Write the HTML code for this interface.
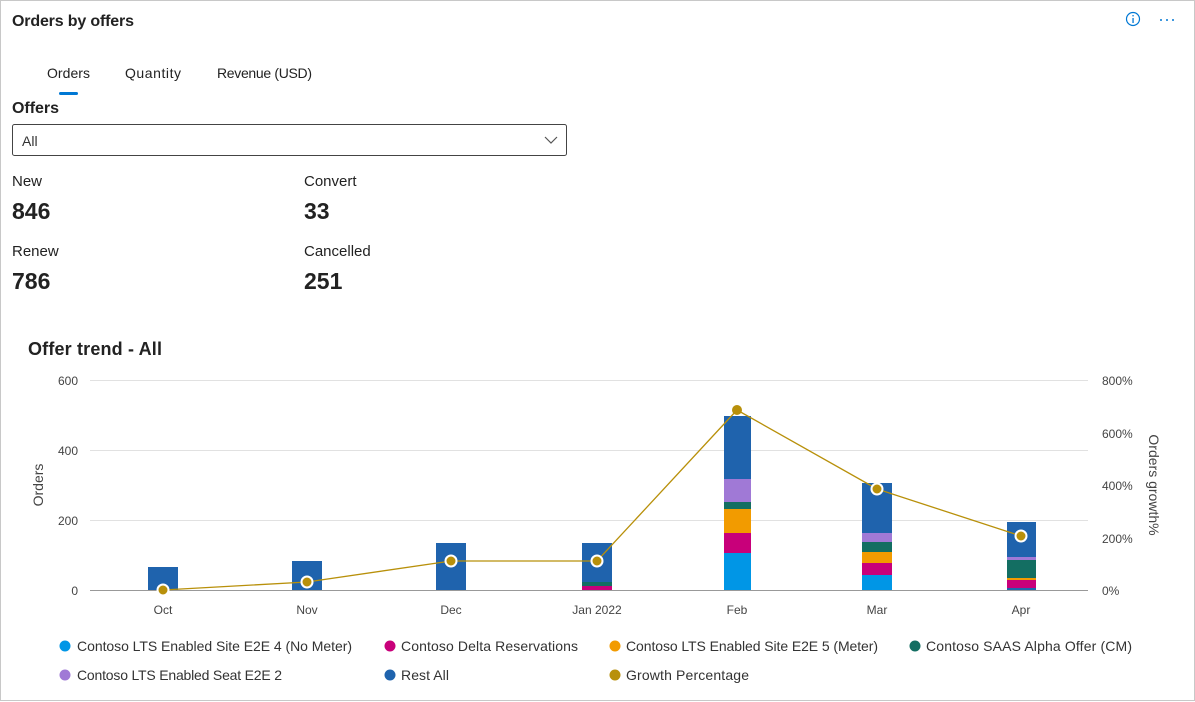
<!DOCTYPE html>
<html><head><meta charset="utf-8"><style>
html,body{margin:0;padding:0;background:#fff;}
svg{display:block;font-family:"Liberation Sans",sans-serif;}
</style></head><body>
<svg width="1195" height="702" viewBox="0 0 1195 702" xmlns="http://www.w3.org/2000/svg">
<rect x="0.5" y="0.5" width="1194" height="700" fill="#fff" stroke="#c8c8c8"/>
<text x="12" y="26" font-size="16" font-weight="bold" fill="#222" textLength="122">Orders by offers</text>
<circle cx="1133" cy="19" r="6.5" fill="none" stroke="#0078d4" stroke-width="1.2"/>
<rect x="1132.4" y="18" width="1.3" height="5" fill="#0078d4"/><rect x="1132.4" y="15" width="1.3" height="1.4" fill="#0078d4"/>
<circle cx="1161" cy="20" r="1" fill="#0078d4"/><circle cx="1167" cy="20" r="1" fill="#0078d4"/><circle cx="1173" cy="20" r="1" fill="#0078d4"/>
<g font-size="14" fill="#222">
<text x="47" y="78" textLength="43">Orders</text>
<text x="125" y="78" textLength="56">Quantity</text>
<text x="217" y="78" textLength="95">Revenue (USD)</text>
</g>
<rect x="59" y="92" width="19" height="3" rx="1.5" fill="#0078d4"/>
<text x="12" y="113" font-size="16" font-weight="bold" fill="#222" textLength="47">Offers</text>
<rect x="12.5" y="124.5" width="554" height="31" rx="2" fill="#fff" stroke="#444"/>
<text x="22" y="146" font-size="14" fill="#333">All</text>
<path d="M545 137 L551 143 L557 137" fill="none" stroke="#555" stroke-width="1.2"/>
<g fill="#222">
<text x="12" y="186" font-size="15">New</text>
<text x="12" y="219" font-size="23" font-weight="bold">846</text>
<text x="304" y="186" font-size="15">Convert</text>
<text x="304" y="219" font-size="23" font-weight="bold">33</text>
<text x="12" y="256" font-size="15">Renew</text>
<text x="12" y="289" font-size="23" font-weight="bold">786</text>
<text x="304" y="256" font-size="15">Cancelled</text>
<text x="304" y="289" font-size="23" font-weight="bold">251</text>
</g>
<text x="28" y="355" font-size="18" font-weight="bold" fill="#222" textLength="134">Offer trend - All</text>
<!-- grid -->
<g stroke="#e1e1e1" stroke-width="1">
<line x1="90" y1="380.5" x2="1088" y2="380.5"/>
<line x1="90" y1="450.5" x2="1088" y2="450.5"/>
<line x1="90" y1="520.5" x2="1088" y2="520.5"/>
</g>
<g font-size="12" fill="#444" text-anchor="end">
<text x="78" y="385">600</text><text x="78" y="455">400</text><text x="78" y="525">200</text><text x="78" y="595">0</text>
</g>
<g font-size="12" fill="#444">
<text x="1102" y="385">800%</text><text x="1102" y="438">600%</text><text x="1102" y="490">400%</text><text x="1102" y="543">200%</text><text x="1102" y="595">0%</text>
</g>
<text transform="translate(43,485) rotate(-90)" font-size="14" fill="#444" text-anchor="middle">Orders</text>
<text transform="translate(1149,485) rotate(90)" font-size="14" fill="#444" text-anchor="middle">Orders growth%</text>
<!-- bars -->
<g>
<rect x="148" y="567" width="30" height="23" fill="#1f63ad"/>
<rect x="292" y="561" width="30" height="29" fill="#1f63ad"/>
<rect x="436" y="543" width="30" height="47" fill="#1f63ad"/>
<rect x="582" y="543" width="30" height="39" fill="#1f63ad"/>
<rect x="582" y="582" width="30" height="4" fill="#136e62"/>
<rect x="582" y="586" width="30" height="4" fill="#c8007a"/>
<!-- Feb -->
<rect x="724" y="416" width="27" height="63" fill="#1f63ad"/>
<rect x="724" y="479" width="27" height="23" fill="#a079d6"/>
<rect x="724" y="502" width="27" height="7" fill="#136e62"/>
<rect x="724" y="509" width="27" height="24" fill="#f29b00"/>
<rect x="724" y="533" width="27" height="20" fill="#c8007a"/>
<rect x="724" y="553" width="27" height="37" fill="#0096e6"/>
<!-- Mar -->
<rect x="862" y="483" width="30" height="50" fill="#1f63ad"/>
<rect x="862" y="533" width="30" height="9" fill="#a079d6"/>
<rect x="862" y="542" width="30" height="10" fill="#136e62"/>
<rect x="862" y="552" width="30" height="11" fill="#f29b00"/>
<rect x="862" y="563" width="30" height="12" fill="#c8007a"/>
<rect x="862" y="575" width="30" height="15" fill="#0096e6"/>
<!-- Apr -->
<rect x="1007" y="522" width="29" height="35" fill="#1f63ad"/>
<rect x="1007" y="557" width="29" height="3" fill="#a079d6"/>
<rect x="1007" y="560" width="29" height="18" fill="#136e62"/>
<rect x="1007" y="578" width="29" height="2" fill="#f29b00"/>
<rect x="1007" y="580" width="29" height="8" fill="#c8007a"/>
<rect x="1007" y="588" width="29" height="2" fill="#1f63ad"/>
</g>
<line x1="90" y1="590.5" x2="1088" y2="590.5" stroke="#999"/>
<polyline points="163,590 307,582 451,561 597,561 737,410 877,489 1021,536" fill="none" stroke="#b8900a" stroke-width="1.3"/>
<g fill="#b8900a" stroke="#fff" stroke-width="2">
<circle cx="163" cy="590" r="5.5"/><circle cx="307" cy="582" r="5.5"/><circle cx="451" cy="561" r="5.5"/><circle cx="597" cy="561" r="5.5"/>
<circle cx="737" cy="410" r="5" stroke="none"/><circle cx="877" cy="489" r="5.5"/><circle cx="1021" cy="536" r="5.5"/>
</g>
<g font-size="12" fill="#444" text-anchor="middle">
<text x="163" y="614">Oct</text><text x="307" y="614">Nov</text><text x="451" y="614">Dec</text><text x="597" y="614">Jan 2022</text>
<text x="737" y="614">Feb</text><text x="877" y="614">Mar</text><text x="1021" y="614">Apr</text>
</g>
<!-- legend -->
<g font-size="14" fill="#333">
<circle cx="65" cy="646" r="5.5" fill="#0096e6"/><text x="77" y="651" textLength="275">Contoso LTS Enabled Site E2E 4 (No Meter)</text>
<circle cx="390" cy="646" r="5.5" fill="#c8007a"/><text x="401" y="651" textLength="177">Contoso Delta Reservations</text>
<circle cx="615" cy="646" r="5.5" fill="#f29b00"/><text x="626" y="651" textLength="252">Contoso LTS Enabled Site E2E 5 (Meter)</text>
<circle cx="915" cy="646" r="5.5" fill="#136e62"/><text x="926" y="651" textLength="206">Contoso SAAS Alpha Offer (CM)</text>
<circle cx="65" cy="675" r="5.5" fill="#a079d6"/><text x="77" y="680" textLength="205">Contoso LTS Enabled Seat E2E 2</text>
<circle cx="390" cy="675" r="5.5" fill="#1f63ad"/><text x="401" y="680" textLength="48">Rest All</text>
<circle cx="615" cy="675" r="5.5" fill="#b8900a"/><text x="626" y="680" textLength="123">Growth Percentage</text>
</g>
</svg>
</body></html>
